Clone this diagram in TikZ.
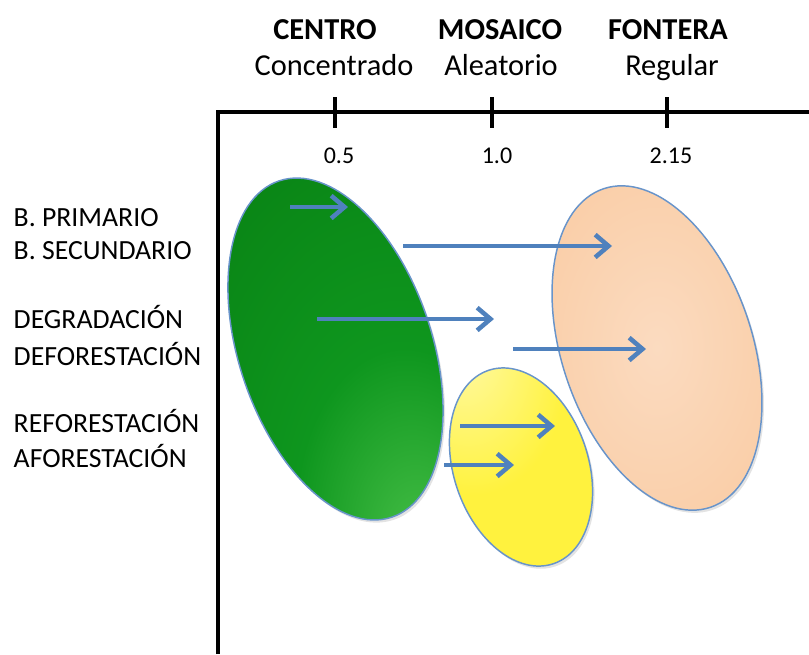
\documentclass[tikz,border=0pt]{standalone}
\usepackage{fontspec}
\setmainfont{Carlito}
\usetikzlibrary{arrows.meta,shapes.geometric,shadows}
\definecolor{arrowblue}{RGB}{79,129,189}
\definecolor{rimblue}{RGB}{104,148,202}
\definecolor{greendark}{RGB}{10,134,22}
\definecolor{greenmid}{RGB}{14,150,30}
\definecolor{greenlight}{RGB}{72,192,72}
\definecolor{peachin}{RGB}{251,219,192}
\definecolor{peachout}{RGB}{249,200,157}
\definecolor{yellowin}{RGB}{255,250,175}
\definecolor{yellowout}{RGB}{255,242,62}
\pgfdeclareradialshading{greenblob}{\pgfpoint{18bp}{-28bp}}%
  {color(0bp)=(greenlight); color(22bp)=(greenmid); color(45bp)=(greendark); color(100bp)=(greendark)}
\pgfdeclareradialshading{peachblob}{\pgfpoint{0bp}{0bp}}%
  {color(0bp)=(peachin); color(40bp)=(peachout); color(100bp)=(peachout)}
\pgfdeclareradialshading{yellowblob}{\pgfpoint{-20bp}{30bp}}%
  {color(0bp)=(yellowin); color(28bp)=(yellowout); color(100bp)=(yellowout)}
\newcommand{\hd}{\fontsize{22.8}{26}\selectfont}
\newcommand{\lb}{\fontsize{20.8}{24}\selectfont}
\newcommand{\nm}{\fontsize{18}{21}\selectfont}

\begin{document}
\begin{tikzpicture}[x=0.75pt,y=-0.75pt,
    axis/.style={line width=3pt,black},
    blob/.style={ellipse,draw=rimblue,line width=1.1pt,inner sep=0pt,rotate=18.5,
      drop shadow={opacity=0.22,shadow xshift=1.5pt,shadow yshift=-2pt}},
    shiftarrow/.style={draw=arrowblue,line width=3.4pt,-{Straight Barb[length=10pt,width=17pt]}},
    head/.style={anchor=base,font=\hd\bfseries},
    sub/.style={anchor=base,font=\hd},
    num/.style={anchor=base,font=\nm},
    side/.style={anchor=base west,font=\lb}]
  \useasboundingbox (0,0) rectangle (809,654);
  % axes
  \draw[axis] (218,654) -- (218,112) -- (809,112);
  \draw[axis] (335, 97) -- (335,128);
  \draw[axis] (492, 97) -- (492,128);
  \draw[axis] (667, 97) -- (667,128);
  % column heads
  \node[head] (centro)  at (325, 39) {CENTRO};
  \node[head] (mosaico) at (500, 39) {MOSAICO};
  \node[head] (fontera) at (668, 39) {FONTERA};
  \node[sub] (concentrado) at (334, 75) {Concentrado};
  \node[sub] (aleatorio)   at (501, 75) {Aleatorio};
  \node[sub] (regular)     at (672, 75) {Regular};
  \node[num] (n05)  at (339,163) {0.5};
  \node[num] (n10)  at (497,163) {1.0};
  \node[num] (n215) at (671,163) {2.15};
  % row labels
  \node[side] (primario)      at (9,226) {B. PRIMARIO};
  \node[side] (secundario)    at (9,259) {B. SECUNDARIO};
  \node[side] (degradacion)   at (9,328) {DEGRADACIÓN};
  \node[side] (deforestacion) at (9,365) {DEFORESTACIÓN};
  \node[side] (reforestacion) at (9,432) {REFORESTACIÓN};
  \node[side] (aforestacion)  at (9,467) {AFORESTACIÓN};
  % the three patterns
  \node[blob,shading=greenblob,minimum width=145pt,minimum height=266pt]  (green)  at (335.5,349) {};
  \node[blob,shading=yellowblob,minimum width=101pt,minimum height=153pt] (yellow) at (521,467) {};
  \node[blob,shading=peachblob,minimum width=143pt,minimum height=252pt]  (peach)  at (657,348) {};
  % shifts
  \coordinate (a1) at (290,207); \coordinate (b1) at (348,207);
  \coordinate (a2) at (403,246); \coordinate (b2) at (612,246);
  \coordinate (a3) at (317,319); \coordinate (b3) at (494,319);
  \coordinate (a4) at (513,349); \coordinate (b4) at (646,349);
  \coordinate (a5) at (460,426); \coordinate (b5) at (555,426);
  \coordinate (a6) at (444,465); \coordinate (b6) at (514,465);
  \foreach \i in {1,...,6}
    \draw[shiftarrow] (a\i) -- (b\i);
\end{tikzpicture}
\end{document}
